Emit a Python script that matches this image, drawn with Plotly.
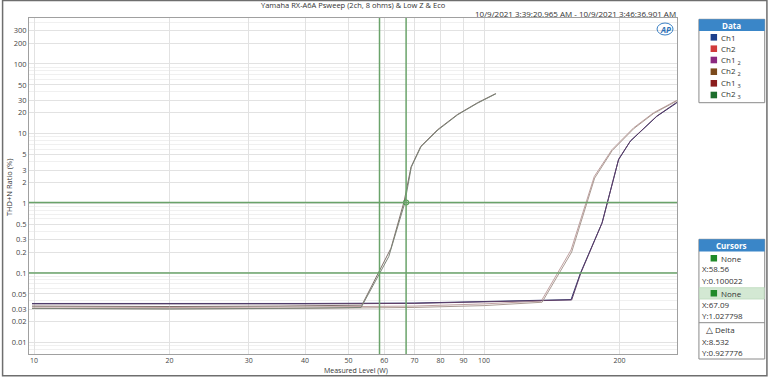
import plotly.graph_objects as go

# ---------------- data ----------------
series_names = ["Ch1", "Ch2", "Ch1 <sub>2</sub>", "Ch2 <sub>2</sub>", "Ch1 <sub>3</sub>", "Ch2 <sub>3</sub>"]

ch1_w = [9.9, 20, 40, 70, 110, 156, 163.6, 182.7, 198.9, 211.1, 241.9, 268]
ch1_thd = [0.0365, 0.0362, 0.0365, 0.037, 0.039, 0.0415, 0.099, 0.519, 4.22, 7.75, 17.7, 27.7]

ch2_w = [9.9, 20, 40, 70, 100, 133.9, 156, 175.7, 192.3, 214.7, 237.8, 268]
ch2_thd = [0.0325, 0.032, 0.0325, 0.0335, 0.036, 0.0395, 0.214, 2.43, 5.89, 12.08, 19.9, 30.1]

ch1_2_w = [9.9, 20, 40, 70, 110, 156.5, 164, 183, 199, 211.5, 242, 268]
ch1_2_thd = [0.036, 0.0357, 0.036, 0.0366, 0.0385, 0.041, 0.1, 0.53, 4.3, 7.9, 17.9, 28.2]

ch2_2_w = [9.9, 20, 40, 70, 100, 134.5, 156.5, 176, 192.5, 215, 238, 268]
ch2_2_thd = [0.031, 0.0305, 0.031, 0.032, 0.034, 0.038, 0.2, 2.3, 5.7, 11.8, 19.5, 29.5]

ch1_3_w = [9.9, 20, 35, 53.5, 62.1, 66.4, 68.8, 72.3, 78.8, 87.2, 96.6, 106.1]
ch1_3_thd = [0.0335, 0.033, 0.0335, 0.0345, 0.227, 1.06, 3.32, 6.56, 11.4, 18.8, 27.7, 37.6]

ch2_3_w = [9.9, 20, 35, 53.3, 61.4, 66.6, 68.9, 72.4, 79.0, 87.4, 96.8, 106.3]
ch2_3_thd = [0.031, 0.0305, 0.031, 0.032, 0.172, 1.0, 3.3, 6.5, 11.3, 18.7, 27.5, 37.4]

line_colors = ["#34396f", "#bfa0a0", "#5e3d66", "#aa9a92", "#80706a", "#7c8478"]
legend_colors = ["#1c3f8c", "#d13b3b", "#8b2a80", "#7b4a1c", "#8a1c1c", "#1c6e2c"]

x_ticks = [10, 20, 30, 40, 50, 60, 70, 80, 90, 100, 200]
y_ticks = [300, 200, 100, 50, 30, 20, 10, 5, 3, 2, 1, 0.5, 0.3, 0.2, 0.1, 0.05, 0.03, 0.02, 0.01]
y_tick_text = ["300", "200", "100", "50", "30", "20", "10", "5", "3", "2", "1", "0.5", "0.3", "0.2", "0.1", "0.05", "0.03", "0.02", "0.01"]

cursor1 = (58.56, 0.100022)
cursor2 = (67.09, 1.027798)
delta = (8.532, 0.927776)

title = "Yamaha RX-A6A Psweep (2ch, 8 ohms) & Low Z & Eco"
date_text = "10/9/2021 3:39:20.965 AM - 10/9/2021 3:46:36.901 AM"

# ---------------- figure ----------------
FONT = "Open Sans"
L, R, T, B = 27, 677, 18, 354
W, H = R - L, B - T


def px(x):
    return (x - L) / W


def py(y):
    return (B - y) / H


fig = go.Figure()
all_data = [(ch1_w, ch1_thd), (ch2_w, ch2_thd), (ch1_2_w, ch1_2_thd),
            (ch2_2_w, ch2_2_thd), (ch1_3_w, ch1_3_thd), (ch2_3_w, ch2_3_thd)]
for (xs, ys), name, col in zip(all_data, series_names, line_colors):
    fig.add_trace(go.Scatter(x=xs, y=ys, mode="lines", name=name,
                             line=dict(color=col, width=1), showlegend=False))

# cursor marker
fig.add_trace(go.Scatter(x=[cursor2[0]], y=[cursor2[1]], mode="markers",
                         marker=dict(symbol="circle-open", size=5, color="#4f9a4f", line=dict(width=1.1)),
                         showlegend=False))

grid_col = "#e2e2e2"
minor_y = []
for d in [0.001, 0.01, 0.1, 1, 10, 100]:
    for m in range(1, 10):
        minor_y.append(round(d * m, 6))

fig.update_xaxes(type="log", range=[0.9889, 2.4285], tickvals=x_ticks,
                 ticktext=[str(v) for v in x_ticks], showgrid=True, gridcolor=grid_col,
                 gridwidth=1, zeroline=False, showline=True, linecolor="#a0a0a0", mirror=True,
                 ticks="", ticklabelstandoff=0, tickfont=dict(family=FONT, size=7, color="#444"))
fig.update_yaxes(type="log", range=[-2.163, 2.66], tickvals=y_ticks, ticktext=y_tick_text,
                 showgrid=True, gridcolor=grid_col, gridwidth=1, zeroline=False,
                 showline=True, linecolor="#a0a0a0", mirror=True, ticks="",
                 minor=dict(tickvals=minor_y, showgrid=True, gridcolor="#f0f0f0", gridwidth=1),
                 tickfont=dict(family=FONT, size=7.5, color="#444"))

shapes = []
gcol = "#6aa36a"
for xv in (cursor1[0], cursor2[0]):
    shapes.append(dict(type="line", xref="x", yref="paper", x0=xv, x1=xv, y0=0, y1=1,
                       line=dict(color=gcol, width=1.5)))
for yv in (cursor1[1], cursor2[1]):
    shapes.append(dict(type="line", xref="paper", yref="y", x0=0, x1=1, y0=yv, y1=yv,
                       line=dict(color=gcol, width=1.5)))

annotations = []


def text(x, y, s, size=8, color="#333", xanchor="left", bold=False, textangle=0):
    annotations.append(dict(xref="paper", yref="paper", x=px(x), y=py(y), text=("<b>%s</b>" % s) if bold else s,
                            showarrow=False, xanchor=xanchor, yanchor="middle", textangle=textangle,
                            font=dict(family=FONT, size=size, color=color)))


def rect(x0, y0, x1, y1, fill=None, line="#8a8a8a", lw=1):
    shapes.append(dict(type="rect", xref="paper", yref="paper", x0=px(x0), x1=px(x1), y0=py(y1), y1=py(y0),
                       fillcolor=fill if fill else "rgba(0,0,0,0)",
                       line=dict(color=line, width=lw) if lw else dict(width=0), layer="above"))


# outer frame
rect(0.5, 0.5, 767.2, 375.8, line="#6e6e6e", lw=1.5)

# titles
text(352, 4.5, title, size=7.5, xanchor="center")
text(678, 13.5, date_text, size=8, xanchor="right")
annotations.append(dict(xref="paper", yref="paper", x=px(355), y=py(375.5), text="Measured Level (W)",
                        showarrow=False, xanchor="center", yanchor="bottom", borderpad=0,
                        font=dict(family=FONT, size=7, color="#333")))
text(7, 188, "THD+N Ratio (%)", size=7.5, xanchor="center", textangle=-90)

# AP logo
shapes.append(dict(type="circle", xref="paper", yref="paper", x0=px(657), x1=px(673), y0=py(35), y1=py(23),
                   line=dict(color="#3a7fc4", width=1), fillcolor="rgba(0,0,0,0)"))
text(665, 29, "<i>AP</i>", size=8, color="#2b6fb5", xanchor="center", bold=True)

# Data panel
rect(699, 19.3, 765, 102.7, fill="white")
rect(699, 19.3, 765, 31, fill="#3a86c8", line="#3a86c8", lw=0)
text(732, 25.2, "Data", size=8, color="white", xanchor="center", bold=True)
ys_leg = [37.3, 48.7, 60, 71.7, 83.3, 95]
for yv, name, col in zip(ys_leg, series_names, legend_colors):
    rect(710.7, yv - 3.3, 717.2, yv + 3.3, fill=col, line=col, lw=0)
    text(719.5, yv, name, size=8)

# Cursors panel
rect(699, 239.3, 765, 359, fill="white")
rect(699, 239.3, 765, 251.5, fill="#3a86c8", line="#3a86c8", lw=0)
text(732, 245.4, "Cursors", size=8, color="white", xanchor="center", bold=True)
rect(710.7, 255, 717.2, 261.5, fill="#1f8a2a", line="#1f8a2a", lw=0)
text(719.5, 258.3, "None", size=8)
text(700.5, 268.3, "X:%.2f" % cursor1[0], size=8)
text(700.5, 280, "Y:%.6f" % cursor1[1], size=8)
rect(699.5, 287.7, 764.5, 299, fill="#d3e8d3", line="#bcd9bc", lw=0.8)
rect(710.7, 290, 717.2, 296.5, fill="#1f8a2a", line="#1f8a2a", lw=0)
text(719.5, 293.3, "None", size=8)
text(700.5, 304.3, "X:%.2f" % cursor2[0], size=8)
text(700.5, 315.7, "Y:%.6f" % cursor2[1], size=8)
shapes.append(dict(type="line", xref="paper", yref="paper", x0=px(699), x1=px(765), y0=py(322.7), y1=py(322.7),
                   line=dict(color="#8a8a8a", width=1)))
text(704, 329.3, "△", size=9, color="#333")
text(713, 329.3, "Delta", size=8)
text(700.5, 341, "X:%.3f" % delta[0], size=8)
text(700.5, 352.3, "Y:%.6f" % delta[1], size=8)

fig.update_layout(width=768, height=377, margin=dict(l=L, r=768 - R, t=T, b=377 - B),
                  paper_bgcolor="white", plot_bgcolor="white", shapes=shapes,
                  annotations=annotations, showlegend=False)

fig.write_html("out.html")
